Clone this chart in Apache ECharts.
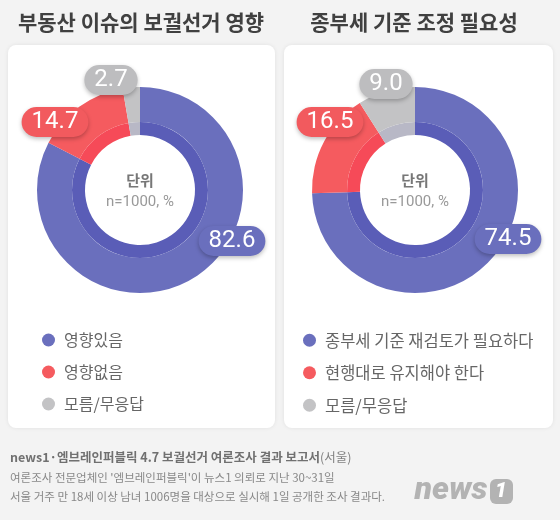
<!DOCTYPE html>
<html>
<head>
<meta charset="utf-8">
<script src="https://cdn.jsdelivr.net/npm/echarts@6/dist/echarts.min.js"></script>
<style>
  html, body { margin: 0; padding: 0; background: #f3f3f3; }
  #chart { width: 560px; height: 520px; }
</style>
</head>
<body>
<div id="chart"></div>
<script>
// 데이터
const names1 = ["영향있음", "영향없음", "모름/무응답"];
const values1 = [82.6, 14.7, 2.7];
const names2 = ["종부세 기준 재검토가 필요하다", "현행대로 유지해야 한다", "모름/무응답"];
const values2 = [74.5, 16.5, 9.0];

const colors = ["#6a6fbd", "#f55b5f", "#c3c3c5"];
const innerColors = ["#5a5db7", "#f64a58", "#b8b8c6"];
const labelColors = ["#6a6fbd", "#f25a5e", "#bdbdbf"];

// 라벨 위치 (픽셀)
const labelPos1 = [[232, 241], [55, 122], [111, 80]];
const labelPos2 = [[508, 239], [330, 122], [386, 84]];

const KR = '"Noto Sans CJK KR", "Noto Sans", sans-serif';

function outerSeries(names, values, center, pos) {
  return {
    type: "pie",
    center: center,
    radius: [68, 103],
    startAngle: 90,
    silent: true,
    avoidLabelOverlap: false,
    z: 3,
    labelLine: { show: false },
    label: {
      show: true,
      position: "inside",
      overflow: "none",
      formatter: (p) => p.value.toFixed(1),
      color: "#fff",
      fontSize: 24,
      fontFamily: "Roboto",
      lineHeight: 24,
      padding: [3, 10],
      borderRadius: 15,
      shadowBlur: 4,
      shadowOffsetY: 2,
      shadowColor: "rgba(0,0,0,0.25)",
    },
    labelLayout: (p) => ({
      x: pos[p.dataIndex][0],
      y: pos[p.dataIndex][1],
      align: "center",
      verticalAlign: "middle",
    }),
    data: names.map((n, i) => ({
      name: n,
      value: values[i],
      itemStyle: { color: colors[i] },
      label: { backgroundColor: labelColors[i] },
    })),
  };
}

function innerSeries(names, values, center) {
  return {
    type: "pie",
    center: center,
    radius: [55, 68],
    startAngle: 90,
    silent: true,
    z: 2,
    label: { show: false },
    labelLine: { show: false },
    data: names.map((n, i) => ({
      name: n,
      value: values[i],
      itemStyle: { color: innerColors[i] },
    })),
  };
}

function legend(names, left, size) {
  return {
    data: names,
    orient: "vertical",
    left: left,
    top: 327,
    icon: "circle",
    itemWidth: 13,
    itemHeight: 13,
    itemGap: 16,
    selectedMode: false,
    textStyle: {
      fontSize: size,
      lineHeight: 16,
      color: "#666",
      fontFamily: KR,
      padding: [0, 0, 0, 4],
    },
  };
}

function txt(text, x, y, font, fill, align) {
  return {
    type: "text",
    z: 100,
    style: {
      text: text,
      x: x,
      y: y,
      font: font,
      fill: fill,
      textAlign: align || "center",
      textVerticalAlign: "middle",
    },
  };
}

const option = {
  backgroundColor: "#f3f3f3",
  animation: false,
  legend: [legend(names1, 37, 16), legend(names2, 298, 16.5)],
  graphic: [
    {
      type: "rect", z: 0,
      shape: { x: 8, y: 45, width: 267, height: 383, r: 8 },
      style: { fill: "#fff", shadowBlur: 4, shadowColor: "rgba(0,0,0,0.08)" },
    },
    {
      type: "rect", z: 0,
      shape: { x: 284, y: 45, width: 269, height: 383, r: 8 },
      style: { fill: "#fff", shadowBlur: 4, shadowColor: "rgba(0,0,0,0.08)" },
    },
    txt("부동산 이슈의 보궐선거 영향", 141, 22, "bold 21px " + KR, "#404040"),
    txt("종부세 기준 조정 필요성", 414, 22, "bold 21px " + KR, "#404040"),
    txt("단위", 140, 180, "bold 15px " + KR, "#777"),
    txt("n=1000, %", 140, 202, "15px Roboto", "#999"),
    txt("단위", 415, 180, "bold 15px " + KR, "#777"),
    txt("n=1000, %", 415, 202, "15px Roboto", "#999"),
    {
      type: "text", z: 100,
      style: {
        x: 10, y: 457,
        textVerticalAlign: "middle",
        text: "{b|news1·엠브레인퍼블릭 4.7 보궐선거 여론조사 결과 보고서}{n|(서울)}",
        rich: {
          b: { font: "bold 12.5px " + KR, fill: "#707070" },
          n: { font: "12.5px " + KR, fill: "#808080" },
        },
      },
    },
    txt("여론조사 전문업체인 '엠브레인퍼블릭'이 뉴스1 의뢰로 지난 30~31일", 10, 478, "11.5px " + KR, "#888", "left"),
    txt("서울 거주 만 18세 이상 남녀 1006명을 대상으로 실시해 1일 공개한 조사 결과다.", 10, 497, "11.5px " + KR, "#888", "left"),
    txt("news", 451, 491, "italic 900 32px Roboto", "#b3b3b3"),
    {
      type: "rect", z: 100,
      shape: { x: 490, y: 479, width: 23, height: 25, r: 6 },
      style: { fill: "#b3b3b3" },
    },
    txt("1", 501, 492, "italic 900 21px Roboto", "#fff"),
  ],
  series: [
    outerSeries(names1, values1, [140, 190], labelPos1),
    innerSeries(names1, values1, [140, 190]),
    outerSeries(names2, values2, [415, 190], labelPos2),
    innerSeries(names2, values2, [415, 190]),
  ],
};

const chart = echarts.init(document.getElementById("chart"));
chart.setOption(option);
</script>
</body>
</html>
